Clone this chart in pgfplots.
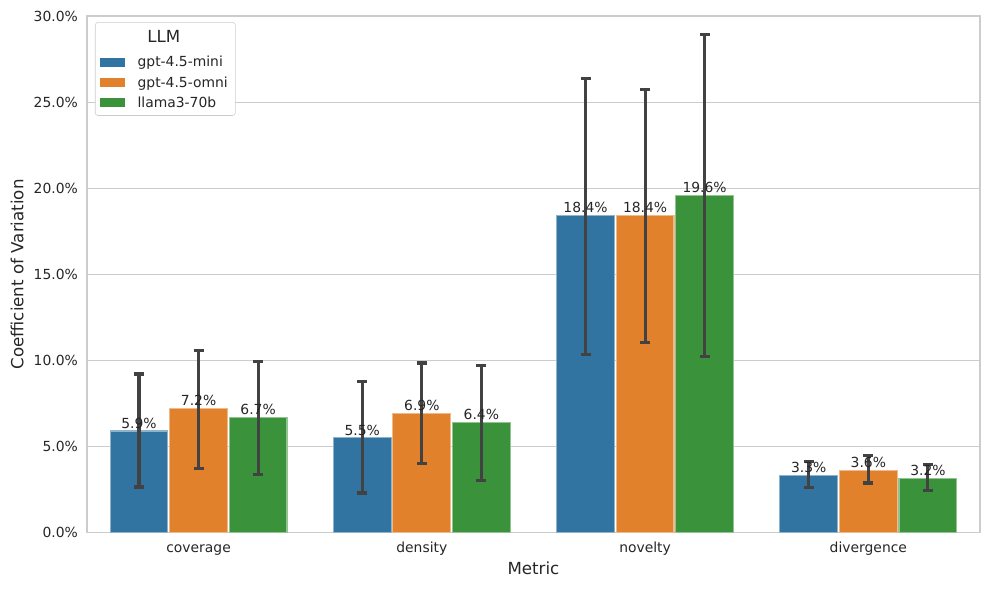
\documentclass[border=0pt]{standalone}
\usepackage{pgfplots}
\usepackage{pgfplotstable}
\usepackage{fontspec}
\setmainfont{DejaVu Sans}
\pgfplotsset{compat=1.18}

\definecolor{cblue}{HTML}{3274A1}
\definecolor{corange}{HTML}{E1812C}
\definecolor{cgreen}{HTML}{3A923A}
\definecolor{cgrid}{HTML}{CCCCCC}
\definecolor{ctext}{HTML}{262626}
\definecolor{cerr}{HTML}{424242}

% x: 0 coverage, 1 density, 2 novelty, 3 divergence; lo/hi = CI ends
\pgfplotstableread{
x y lo hi
0 5.9 2.65 9.21
1 5.5 2.30 8.75
2 18.4 10.35 26.35
3 3.3 2.60 4.12
}\mini
\pgfplotstableread{
x y lo hi
0 7.2 3.70 10.60
1 6.9 3.99 9.85
2 18.4 11.05 25.75
3 3.6 2.88 4.49
}\omni
\pgfplotstableread{
x y lo hi
0 6.7 3.35 9.96
1 6.4 3.00 9.69
2 19.6 10.25 28.90
3 3.15 2.42 3.97
}\llama

\pgfplotsset{
  barplot/.style={fill=#1, draw=#1!55!white, line width=0.8pt,
    nodes near coords={\pgfmathprintnumber[fixed,fixed zerofill,precision=1]{\pgfplotspointmeta}\%},
    every node near coord/.append style={font=\fontsize{10}{12}\selectfont, color=ctext, inner sep=1.5pt}},
  ciplot/.style={forget plot, draw=none, fill=none,
    error bars/y dir=both, error bars/y explicit,
    error bars/error bar style={draw=cerr, line width=2.2pt},
    error bars/error mark options={draw=cerr, line width=2.2pt, mark size=3.6pt, rotate=90}},
}

\begin{document}
\begin{tikzpicture}
\begin{axis}[
  scale only axis, width=643pt, height=372pt,
  /pgf/number format/assume math mode=true,
  xmin=-0.5, xmax=3.5, ymin=0, ymax=30,
  xtick={0,1,2,3}, xticklabels={coverage,density,novelty,divergence},
  ytick={0,5,10,15,20,25,30},
  yticklabels={0.0\%,5.0\%,10.0\%,15.0\%,20.0\%,25.0\%,30.0\%},
  major tick length=0pt,
  ymajorgrids, grid style={cgrid, line width=0.75pt},
  axis line style={cgrid, line width=0.9pt},
  ticklabel style={font=\fontsize{10}{12}\selectfont, color=ctext},
  xticklabel style={yshift=-3pt, text height=7.5pt, text depth=2pt},
  yticklabel style={xshift=-3pt},
  xlabel={Metric}, ylabel={Coefficient of Variation},
  label style={font=\fontsize{12}{14}\selectfont, color=ctext},
  xlabel style={yshift=2pt},
  ylabel style={yshift=0.5pt},
  ybar, bar width=0.259,
  legend style={at={(axis description cs:0.009,0.988)}, anchor=north west,
    draw=cgrid, fill=white, rounded corners=2pt,
    font=\fontsize{10}{12}\selectfont, text=ctext,
    inner xsep=3.5pt, inner ysep=2.5pt, row sep=1.4pt},
  legend cell align=left,
  legend image code/.code={\path[#1, draw=none, sharp corners] (0pt,-3.3pt) rectangle (18pt,3.3pt);
    \path[draw=none, fill=none] (0pt,0pt) -- (25pt,0pt);},
]
\addlegendimage{empty legend}
\addlegendentry{\rule{0pt}{13pt}}
\addplot[barplot=cblue, bar shift=-0.2667] table[x=x, y=y] {\mini};
\addlegendentry{gpt-4.5-mini}
\addplot[barplot=corange, bar shift=0] table[x=x, y=y] {\omni};
\addlegendentry{gpt-4.5-omni}
\addplot[barplot=cgreen, bar shift=0.2667] table[x=x, y=y] {\llama};
\addlegendentry{llama3-70b}
% confidence intervals, drawn over the value labels
\addplot[ciplot, bar shift=-0.2667] table[x=x, y=y,
  y error plus expr=\thisrow{hi}-\thisrow{y}, y error minus expr=\thisrow{y}-\thisrow{lo}] {\mini};
\addplot[ciplot, bar shift=0] table[x=x, y=y,
  y error plus expr=\thisrow{hi}-\thisrow{y}, y error minus expr=\thisrow{y}-\thisrow{lo}] {\omni};
\addplot[ciplot, bar shift=0.2667] table[x=x, y=y,
  y error plus expr=\thisrow{hi}-\thisrow{y}, y error minus expr=\thisrow{y}-\thisrow{lo}] {\llama};
\end{axis}
\node[font=\fontsize{12}{14}\selectfont, text=ctext] at ([shift={(55.4pt,357.5pt)}]current axis.south west) {LLM};
\pgfresetboundingbox
\path ([shift={(-62.6pt,-41pt)}]current axis.south west) rectangle ([shift={(6.5pt,11.5pt)}]current axis.north east);
\end{tikzpicture}
\end{document}
